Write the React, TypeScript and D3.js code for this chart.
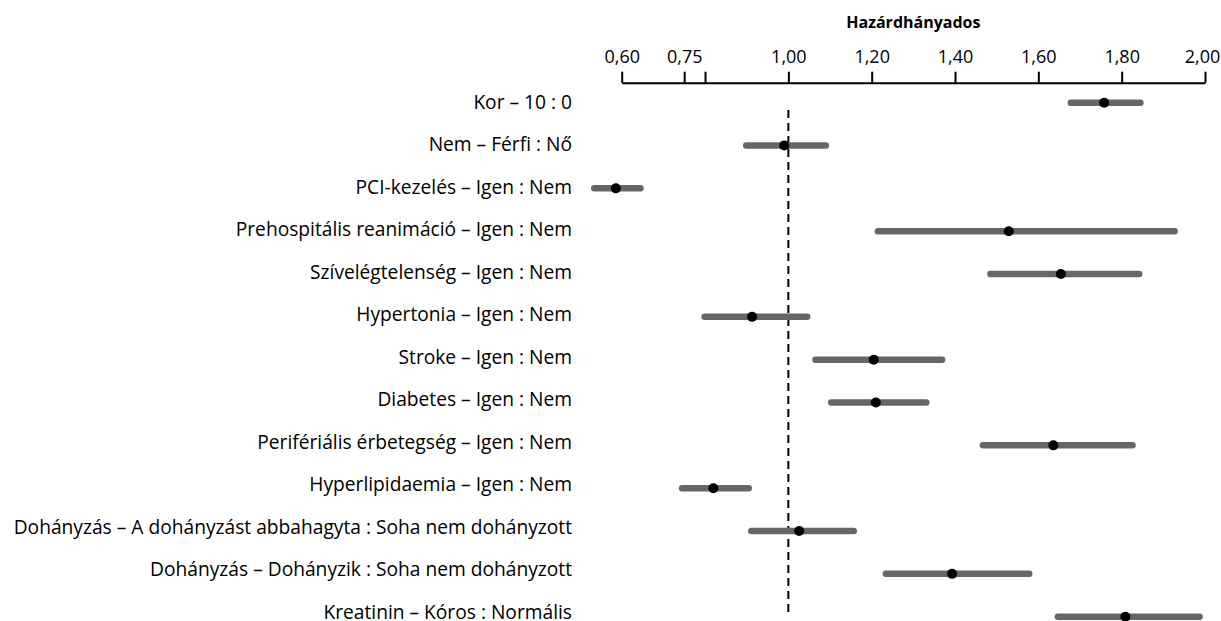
import React, {useEffect, useRef} from 'react'
import * as d3 from 'd3'

const labels = [
  "Kor – 10 : 0",
  "Nem – Férfi : Nő",
  "PCI-kezelés – Igen : Nem",
  "Prehospitális reanimáció – Igen : Nem",
  "Szívelégtelenség – Igen : Nem",
  "Hypertonia – Igen : Nem",
  "Stroke – Igen : Nem",
  "Diabetes – Igen : Nem",
  "Perifériális érbetegség – Igen : Nem",
  "Hyperlipidaemia – Igen : Nem",
  "Dohányzás – A dohányzást abbahagyta : Soha nem dohányzott",
  "Dohányzás – Dohányzik : Soha nem dohányzott",
  "Kreatinin – Kóros : Normális",
];
const estimate = [1.758, 0.990, 0.586, 1.529, 1.654, 0.913, 1.205, 1.210, 1.636, 0.820, 1.026, 1.393, 1.809];
const lower = [1.678, 0.899, 0.534, 1.215, 1.485, 0.799, 1.065, 1.103, 1.467, 0.745, 0.911, 1.234, 1.647];
const upper = [1.845, 1.090, 0.645, 1.927, 1.842, 1.045, 1.369, 1.331, 1.826, 0.905, 1.157, 1.578, 1.987];

const tickValues = [0.6, 0.75, 0.8, 1.0, 1.2, 1.4, 1.6, 1.8, 2.0];
const tickLabels = ["0,60", "0,75", "", "1,00", "1,20", "1,40", "1,60", "1,80", "2,00"];
const axisTitle = "Hazárdhányados";

export default function App() {
  const ref = useRef(null);

  useEffect(() => {
    document.body.style.margin = "0";
    const width = 1221, height = 621;
    const font = "'Open Sans', 'Noto Sans', sans-serif";

    const svg = d3.select(ref.current);
    svg.selectAll("*").remove();

    const x = d3.scaleLinear().domain([0.6, 2.0]).range([621.7, 1205]);
    const y = d3.scalePoint().domain(labels).range([102.7, 616.7]);
    // label baselines (text sits a touch higher toward the bottom)
    const yText = d3.scalePoint().domain(labels).range([109, 618.5]);

    const data = labels.map((l, i) => ({label: l, est: estimate[i], lo: lower[i], hi: upper[i]}));

    // axis on top
    const axis = svg.append("g")
      .attr("transform", "translate(0,82.7)")
      .call(d3.axisTop(x)
        .tickValues(tickValues)
        .tickFormat((d, i) => tickLabels[i])
        .tickSizeInner(11)
        .tickSizeOuter(0)
        .tickPadding(9));
    axis.select(".domain").attr("stroke", "#000").attr("stroke-width", 2);
    axis.selectAll(".tick line").attr("stroke", "#000").attr("stroke-width", 2);
    axis.selectAll(".tick text")
      .attr("fill", "#000")
      .attr("dx", (d, i) => i === tickValues.length - 1 ? -3 : 0)
      .style("font-family", font)
      .style("font-size", "18px");

    svg.append("text")
      .attr("x", (x.range()[0] + x.range()[1]) / 2)
      .attr("y", 28)
      .attr("text-anchor", "middle")
      .style("font-family", font)
      .style("font-size", "16px")
      .style("font-weight", "bold")
      .text(axisTitle);

    // reference line at 1
    svg.append("line")
      .attr("x1", x(1)).attr("x2", x(1))
      .attr("y1", 110).attr("y2", 617)
      .attr("stroke", "#000")
      .attr("stroke-width", 2)
      .attr("stroke-dasharray", "8,5");

    // confidence intervals
    svg.selectAll(".ci")
      .data(data)
      .enter().append("line")
      .attr("class", "ci")
      .attr("x1", d => x(d.lo))
      .attr("x2", d => x(d.hi))
      .attr("y1", d => y(d.label))
      .attr("y2", d => y(d.label))
      .attr("stroke", "#666666")
      .attr("stroke-width", 6.5)
      .attr("stroke-linecap", "round");

    // point estimates
    svg.selectAll(".pt")
      .data(data)
      .enter().append("circle")
      .attr("class", "pt")
      .attr("cx", d => x(d.est))
      .attr("cy", d => y(d.label))
      .attr("r", 5)
      .attr("fill", "#000");

    // row labels
    svg.selectAll(".lbl")
      .data(data)
      .enter().append("text")
      .attr("class", "lbl")
      .attr("x", 572)
      .attr("y", d => yText(d.label))
      .attr("text-anchor", "end")
      .style("font-family", font)
      .style("font-size", "19.2px")
      .text(d => d.label);

    svg.attr("width", width).attr("height", height);
  }, []);

  return (
    <div>
      <svg ref={ref} width={1221} height={621} style={{display: "block", background: "#fff"}}></svg>
    </div>
  )
}
